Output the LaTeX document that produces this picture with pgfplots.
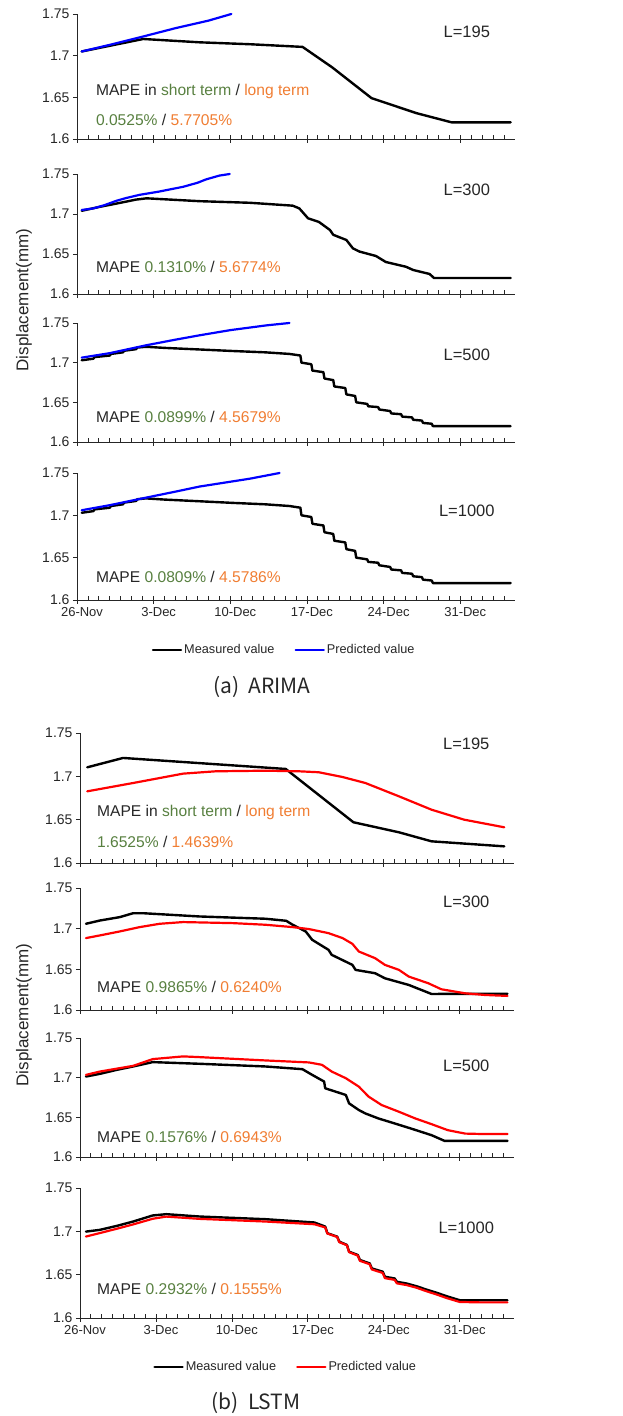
\documentclass[border=0pt]{standalone}
\usepackage{fontspec}
\setmainfont{Liberation Sans}
\newfontfamily\capfont{Noto Sans CJK KR}
\usepackage{pgfplots}
\usepackage{pgfplotstable}
\pgfplotsset{compat=1.18}
\definecolor{mgreen}{RGB}{88,128,64}
\definecolor{morange}{RGB}{240,125,50}

% ---------- ARIMA data ----------
\pgfplotstableread{
d v
0.43 1.705
6.05 1.720
11.2 1.716
15.8 1.7137
20.6 1.7105
23.3 1.686
26.9 1.649
31.0 1.631
34.2 1.620
39.6 1.620
}\AMone
\pgfplotstableread{
d v
0.43 1.705
3.0 1.713
6.05 1.723
9.0 1.733
12.0 1.742
14.1 1.750
}\APone
\pgfplotstableread{
d v
0.43 1.704
2.1 1.709
3.6 1.713
5.4 1.718
6.35 1.7196
11.2 1.716
15.8 1.714
19.7 1.7104
20.3 1.707
21.1 1.6946
22.1 1.690
23.1 1.680
23.4 1.674
24.6 1.6675
25.2 1.657
25.8 1.653
27.3 1.6475
28.2 1.640
30.05 1.634
30.7 1.630
32.2 1.625
32.6 1.620
39.6 1.620
}\AMtwo
\pgfplotstableread{
d v
0.43 1.705
1.5 1.707
2.5 1.711
3.6 1.7165
4.5 1.720
5.74 1.724
7.5 1.728
9.7 1.734
11.0 1.739
11.8 1.7433
13.0 1.748
13.95 1.750
}\APtwo
\pgfplotstableread{
d v
0.43 1.703
1.5 1.705
1.6 1.707
3.0 1.709
3.1 1.711
4.2 1.713
4.3 1.715
5.4 1.717
5.5 1.719
6.3 1.720
8.0 1.7186
11.2 1.7166
14.2 1.7147
17.2 1.713
19.4 1.711
20.4 1.709
20.5 1.700
21.4 1.698
21.5 1.690
22.5 1.688
22.6 1.680
23.4 1.678
23.5 1.670
24.5 1.668
24.6 1.660
25.4 1.658
25.5 1.650
26.5 1.648
26.6 1.645
27.5 1.644
27.6 1.641
28.6 1.639
28.7 1.636
29.6 1.635
29.7 1.632
30.6 1.631
30.7 1.628
31.5 1.627
31.6 1.624
32.4 1.623
32.5 1.620
39.6 1.620
}\AMfine
\pgfplotstableread{
d v
0.43 1.7063
3.0 1.712
6.35 1.722
9.0 1.729
11.2 1.7345
14.0 1.741
17.3 1.747
19.4 1.750
}\APthree
\pgfplotstableread{
d v
0.43 1.706
3.0 1.712
6.35 1.721
9.0 1.728
11.2 1.734
15.8 1.7433
18.5 1.750
}\APfour

% ---------- LSTM data ----------
\pgfplotstableread{
d v
0.67 1.7104
3.97 1.7212
18.96 1.7085
25.2 1.647
29.4 1.6354
32.4 1.625
39.1 1.6192
}\LMone
\pgfplotstableread{
d v
0.67 1.6827
4.9 1.6923
9.5 1.7031
12.5 1.7058
17.1 1.7065
20.2 1.7058
22.0 1.7047
24.2 1.6992
26.3 1.6923
29.4 1.6769
32.4 1.6615
35.4 1.650
39.1 1.6412
}\LPone
\pgfplotstableread{
d v
0.55 1.706
1.83 1.710
3.67 1.7142
4.9 1.719
5.8 1.719
11.0 1.715
17.1 1.7122
19.0 1.7097
19.6 1.7048
20.8 1.6966
21.4 1.6863
22.9 1.674
23.2 1.6678
25.1 1.6555
25.4 1.6493
27.2 1.6452
28.1 1.639
30.3 1.6308
32.4 1.6197
39.4 1.620
}\LMtwo
\pgfplotstableread{
d v
0.55 1.6884
1.83 1.6917
3.67 1.6966
5.5 1.7019
7.35 1.706
9.5 1.7081
14.1 1.7068
17.1 1.7048
19.6 1.7019
21.1 1.6995
22.9 1.6945
24.2 1.6884
25.1 1.6814
25.7 1.6719
27.2 1.6637
28.1 1.6555
29.4 1.6493
30.3 1.6411
32.1 1.6329
33.3 1.6255
35.5 1.6205
37.3 1.6185
39.4 1.6173
}\LPtwo
\pgfplotstableread{
d v
0.55 1.7014
1.83 1.7048
3.4 1.7099
4.9 1.7141
6.7 1.7196
11.0 1.7175
17.1 1.7141
20.5 1.7107
21.4 1.7035
22.5 1.6951
22.6 1.6866
24.5 1.6782
24.8 1.6676
25.7 1.6592
26.3 1.6549
27.5 1.6486
29.0 1.6423
30.5 1.6359
32.4 1.6275
33.6 1.6203
39.4 1.6203
}\LMthree
\pgfplotstableread{
d v
0.55 1.7035
1.83 1.7077
4.9 1.7149
6.7 1.7234
9.5 1.7268
11.0 1.7259
17.1 1.7217
21.1 1.7192
22.3 1.7162
23.2 1.7077
24.5 1.6993
25.7 1.6887
26.6 1.6761
27.8 1.6655
29.4 1.6570
30.9 1.6486
32.4 1.6414
33.9 1.6338
35.5 1.6295
37.0 1.629
39.4 1.629
}\LPthree
\pgfplotstableread{
d v
0.55 1.6997
1.83 1.7017
3.4 1.7063
4.9 1.7113
6.7 1.7183
7.95 1.7198
11.0 1.7171
17.1 1.714
21.6 1.7102
22.6 1.7055
22.8 1.6978
23.7 1.6939
23.9 1.6881
24.6 1.6843
24.8 1.6765
25.6 1.6727
25.8 1.6669
26.7 1.663
26.9 1.6572
27.9 1.6534
28.1 1.6476
29.0 1.6456
29.2 1.6418
30.1 1.6398
31.0 1.6367
31.9 1.6329
32.9 1.629
33.8 1.6251
35.0 1.6205
39.4 1.6205
}\LMfour
\pgfplotstableread{
d v
0.55 1.694
1.83 1.698
3.4 1.703
4.9 1.708
6.7 1.7145
7.95 1.717
11.0 1.7144
17.1 1.7113
21.6 1.7082
22.6 1.7045
22.8 1.6975
23.7 1.6935
23.9 1.6875
24.6 1.684
24.8 1.676
25.6 1.672
25.8 1.666
26.7 1.662
26.9 1.656
27.9 1.652
28.1 1.646
29.0 1.644
29.2 1.640
30.1 1.638
31.0 1.635
31.9 1.631
32.9 1.627
33.8 1.623
35.0 1.6185
37.0 1.618
39.4 1.618
}\LPfour

\tikzset{
  meas/.style={black, line width=2.4pt},
  mape/.style={anchor=west, inner sep=0pt, font=\fontsize{15.6}{18}\selectfont, text=black!85},
  lbl/.style={anchor=center, inner sep=0pt, font=\fontsize{16.5}{19}\selectfont, text=black!85},
}
\pgfplotsset{
  panel/.style={
    scale only axis,
    xmin=0, xmax=40, ymin=1.6, ymax=1.75,
    axis x line*=bottom, axis y line*=left,
    axis line style={line width=0.9pt, black!85, -},
    clip=false,
    ytick={1.6,1.65,1.7,1.75},
    yticklabels={1.6,1.65,1.7,1.75},
    xtick={0,1,...,39},
    xticklabels={},
    xtick align=inside,
    ytick align=outside,
    major tick length=4pt,
    tick style={line width=0.8pt, black!85},
    /pgf/number format/assume math mode=true,
    tick label style={font=\fontsize{13}{15}\selectfont, text=black!85},
    y tick label style={font=\fontsize{14}{16}\selectfont},
    extra x ticks={0,7,14,21,28,35},
    extra x tick style={xtick align=center, major tick length=8pt, tick label style={xshift=5pt}},
    every axis plot/.append style={no marks, line join=round, line cap=round},
  },
  nolab/.style={extra x tick labels={}},
  lab/.style={extra x tick labels={26-Nov,3-Dec,10-Dec,17-Dec,24-Dec,31-Dec}},
  leg/.style={
    legend style={draw=none, fill=none, anchor=center, legend columns=2,
      font=\fontsize{12.7}{14}\selectfont, text=black!85, inner sep=0pt,
      /tikz/every even column/.append style={column sep=18pt}},
    legend image code/.code={\draw[##1, line width=2.4pt] (0pt,0pt) -- (28pt,0pt);},
  },
}

\begin{document}
\begin{tikzpicture}
\path[use as bounding box] (0pt,0pt) rectangle (622pt,1416pt);

% ================= ARIMA =================
\begin{axis}[panel, nolab, at={(77pt,1277pt)}, anchor=south west, width=438pt, height=125pt]
\addplot[meas] table {\AMone};
\addplot[blue, line width=2.2pt] table {\APone};
\node[lbl] at (rel axis cs:0.89,0.856) {L=195};
\node[mape] at (rel axis cs:0.043,0.384) {MAPE in \textcolor{mgreen}{short term} / \textcolor{morange}{long term}};
\node[mape] at (rel axis cs:0.043,0.152) {\textcolor{mgreen}{0.0525\%} / \textcolor{morange}{5.7705\%}};
\end{axis}

\begin{axis}[panel, nolab, at={(77pt,1122pt)}, anchor=south west, width=438pt, height=120pt]
\addplot[meas] table {\AMtwo};
\addplot[blue, line width=2.2pt] table {\APtwo};
\node[lbl] at (rel axis cs:0.89,0.867) {L=300};
\node[mape] at (rel axis cs:0.043,0.225) {MAPE \textcolor{mgreen}{0.1310\%} / \textcolor{morange}{5.6774\%}};
\end{axis}

\begin{axis}[panel, nolab, at={(77pt,974pt)}, anchor=south west, width=438pt, height=119pt]
\addplot[meas] table {\AMfine};
\addplot[blue, line width=2.2pt] table {\APthree};
\node[lbl] at (rel axis cs:0.89,0.73) {L=500};
\node[mape] at (rel axis cs:0.043,0.21) {MAPE \textcolor{mgreen}{0.0899\%} / \textcolor{morange}{4.5679\%}};
\end{axis}

\begin{axis}[panel, lab, leg, at={(77pt,816pt)}, anchor=south west, width=438pt, height=127pt,
  legend style={at={(0.473,-0.394)}}]
\addplot[meas] table {\AMfine};
\addlegendentry{Measured value}
\addplot[blue, line width=2.2pt] table {\APfour};
\addlegendentry{Predicted value}
\node[lbl] at (rel axis cs:0.89,0.70) {L=1000};
\node[mape] at (rel axis cs:0.043,0.18) {MAPE \textcolor{mgreen}{0.0809\%} / \textcolor{morange}{4.5786\%}};
\end{axis}

\node[rotate=90, font=\fontsize{17}{20}\selectfont, text=black!85] at (24pt,1116pt) {Displacement(mm)};
\node[font=\capfont\fontsize{21}{24}\selectfont, text=black!85] at (262pt,729pt) {(a)\ \ ARIMA};

% ================= LSTM =================
\begin{axis}[panel, nolab, at={(80pt,553pt)}, anchor=south west, width=434pt, height=130pt]
\addplot[meas] table {\LMone};
\addplot[red, line width=2.2pt] table {\LPone};
\node[lbl] at (rel axis cs:0.89,0.92) {L=195};
\node[mape] at (rel axis cs:0.039,0.392) {MAPE in \textcolor{mgreen}{short term} / \textcolor{morange}{long term}};
\node[mape] at (rel axis cs:0.039,0.16) {\textcolor{mgreen}{1.6525\%} / \textcolor{morange}{1.4639\%}};
\end{axis}

\begin{axis}[panel, nolab, at={(80pt,406pt)}, anchor=south west, width=434pt, height=122pt]
\addplot[meas] table {\LMtwo};
\addplot[red, line width=2.2pt] table {\LPtwo};
\node[lbl] at (rel axis cs:0.89,0.885) {L=300};
\node[mape] at (rel axis cs:0.039,0.19) {MAPE \textcolor{mgreen}{0.9865\%} / \textcolor{morange}{0.6240\%}};
\end{axis}

\begin{axis}[panel, nolab, at={(80pt,259pt)}, anchor=south west, width=434pt, height=119pt]
\addplot[meas] table {\LMthree};
\addplot[red, line width=2.2pt] table {\LPthree};
\node[lbl] at (rel axis cs:0.89,0.77) {L=500};
\node[mape] at (rel axis cs:0.039,0.17) {MAPE \textcolor{mgreen}{0.1576\%} / \textcolor{morange}{0.6943\%}};
\end{axis}

\begin{axis}[panel, lab, leg, at={(80pt,98pt)}, anchor=south west, width=434pt, height=130pt,
  legend style={at={(0.474,-0.377)}}]
\addplot[meas] table {\LMfour};
\addlegendentry{Measured value}
\addplot[red, line width=2.2pt] table {\LPfour};
\addlegendentry{Predicted value}
\node[lbl] at (rel axis cs:0.89,0.69) {L=1000};
\node[mape] at (rel axis cs:0.039,0.22) {MAPE \textcolor{mgreen}{0.2932\%} / \textcolor{morange}{0.1555\%}};
\end{axis}

\node[rotate=90, font=\fontsize{17}{20}\selectfont, text=black!85] at (24pt,401pt) {Displacement(mm)};
\node[font=\capfont\fontsize{21}{24}\selectfont, text=black!85] at (256pt,13pt) {(b)\ \ LSTM};
\end{tikzpicture}
\end{document}
